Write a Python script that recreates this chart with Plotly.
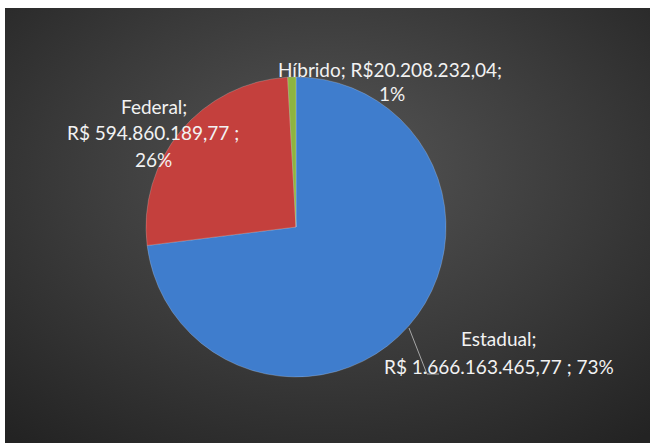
import base64
import plotly.graph_objects as go

# ---- data ----
categories = ["Estadual", "Federal", "Híbrido"]
values = [1666163465.77, 594860189.77, 20208232.04]
colors = ["#3F7DCD", "#C4403D", "#8DB440"]

label_lines = {
    "Híbrido": ["Híbrido; R$20.208.232,04;", "1%"],
    "Federal": ["Federal;", "R$ 594.860.189,77 ;", "26%"],
    "Estadual": ["Estadual;", "R$ 1.666.163.465,77 ; 73%"],
}

W, H = 651, 443

def px(x):
    return x / W

def py(y):
    return 1 - y / H

# radial gradient background as svg
svg = f'''<svg xmlns="http://www.w3.org/2000/svg" width="645" height="440" viewBox="0 0 645 440">
<defs><radialGradient id="g" cx="50%" cy="40%" r="75%" fx="50%" fy="35%">
<stop offset="0%" stop-color="#555555"/>
<stop offset="55%" stop-color="#3a3a3a"/>
<stop offset="100%" stop-color="#232323"/>
</radialGradient></defs>
<rect width="645" height="440" fill="url(#g)"/></svg>'''
src = "data:image/svg+xml;base64," + base64.b64encode(svg.encode()).decode()

fig = go.Figure()
fig.add_trace(go.Pie(
    labels=categories,
    values=values,
    sort=False,
    direction="clockwise",
    rotation=0,
    textinfo="none",
    hoverinfo="skip",
    marker=dict(colors=colors, line=dict(color="rgba(255,255,255,0.25)", width=0.8)),
    domain=dict(x=[px(146), px(446)], y=[py(377), py(77)]),
    showlegend=False,
))

font = dict(family="Lato, Open Sans, sans-serif", size=19, color="#F2F2F2")
positions = {
    "Híbrido": [(390, 70), (392, 94)],
    "Federal": [(154, 106), (153, 132), (153, 159)],
    "Estadual": [(498, 338), (499, 366)],
}
annotations = []
for cat in categories:
    for text, (x, y) in zip(label_lines[cat], positions[cat]):
        annotations.append(dict(
            x=px(x), y=py(y), xref="paper", yref="paper", text=text,
            showarrow=False, xanchor="center", yanchor="middle", font=font,
        ))

fig.update_layout(
    width=W, height=H,
    margin=dict(l=0, r=0, t=0, b=0),
    paper_bgcolor="white",
    plot_bgcolor="rgba(0,0,0,0)",
    images=[dict(source=src, xref="paper", yref="paper", x=px(5), y=py(8),
                 sizex=px(650) - px(5), sizey=1.0, xanchor="left",
                 yanchor="top", sizing="stretch", layer="below")],
    annotations=annotations,
    shapes=[dict(type="path", xref="paper", yref="paper",
                 path=f"M {px(409)},{py(328)} L {px(427)},{py(374)} L {px(439)},{py(374)}",
                 line=dict(color="#A6A6A6", width=1))],
)

fig.write_html("out.html", config={"displayModeBar": False},
               post_script="document.body.style.margin='0';")
